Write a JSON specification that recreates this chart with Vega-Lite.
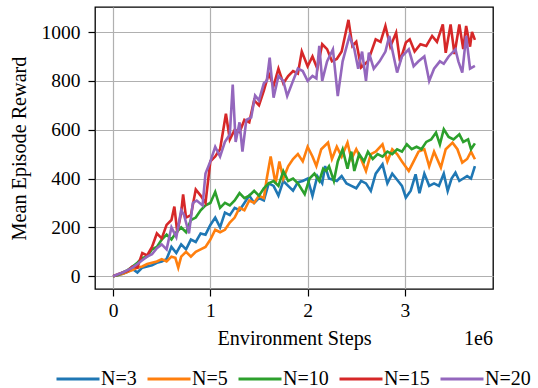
{
  "$schema": "https://vega.github.io/schema/vega-lite/v6.json",
  "width": 398,
  "height": 282,
  "autosize": {"type": "none"},
  "padding": {"left": 95, "top": 7, "right": 45, "bottom": 99},
  "background": "white",
  "config": {
    "font": "Liberation Serif",
    "view": {"stroke": "black", "strokeWidth": 1.3},
    "axis": {
      "domain": false,
      "grid": true,
      "gridColor": "#b0b0b0",
      "gridWidth": 1.2,
      "tickColor": "black",
      "tickSize": 7,
      "tickWidth": 1.2,
      "labelColor": "black",
      "labelFontSize": 19.5,
      "labelFont": "Liberation Serif",
      "titleColor": "black",
      "titleFont": "Liberation Serif",
      "titleFontSize": 20.2,
      "titleFontWeight": "normal"
    },
    "legend": {
      "labelFont": "Liberation Serif",
      "labelFontSize": 20,
      "labelColor": "black"
    }
  },
  "layer": [
    {
      "data": {
        "values": [
          {"s":"N=3","x":0,"y":0},{"s":"N=3","x":0.05,"y":5},{"s":"N=3","x":0.1,"y":10},{"s":"N=3","x":0.15,"y":18},{"s":"N=3","x":0.2,"y":30},{"s":"N=3","x":0.25,"y":15},{"s":"N=3","x":0.3,"y":35},{"s":"N=3","x":0.35,"y":40},{"s":"N=3","x":0.4,"y":45},{"s":"N=3","x":0.45,"y":55},{"s":"N=3","x":0.5,"y":60},{"s":"N=3","x":0.55,"y":70},{"s":"N=3","x":0.6,"y":120},{"s":"N=3","x":0.65,"y":95},{"s":"N=3","x":0.7,"y":130},{"s":"N=3","x":0.75,"y":110},{"s":"N=3","x":0.8,"y":150},{"s":"N=3","x":0.85,"y":140},{"s":"N=3","x":0.9,"y":175},{"s":"N=3","x":0.95,"y":170},{"s":"N=3","x":1.0,"y":210},{"s":"N=3","x":1.05,"y":240},{"s":"N=3","x":1.1,"y":200},{"s":"N=3","x":1.15,"y":260},{"s":"N=3","x":1.2,"y":250},{"s":"N=3","x":1.25,"y":280},{"s":"N=3","x":1.3,"y":270},{"s":"N=3","x":1.35,"y":300},{"s":"N=3","x":1.4,"y":330},{"s":"N=3","x":1.45,"y":300},{"s":"N=3","x":1.5,"y":320},{"s":"N=3","x":1.55,"y":310},{"s":"N=3","x":1.6,"y":380},{"s":"N=3","x":1.65,"y":370},{"s":"N=3","x":1.7,"y":330},{"s":"N=3","x":1.75,"y":390},{"s":"N=3","x":1.8,"y":370},{"s":"N=3","x":1.85,"y":350},{"s":"N=3","x":1.9,"y":385},{"s":"N=3","x":1.95,"y":390},{"s":"N=3","x":2.0,"y":400},{"s":"N=3","x":2.05,"y":329},{"s":"N=3","x":2.1,"y":410},{"s":"N=3","x":2.15,"y":380},{"s":"N=3","x":2.18,"y":451},{"s":"N=3","x":2.22,"y":400},{"s":"N=3","x":2.3,"y":390},{"s":"N=3","x":2.35,"y":410},{"s":"N=3","x":2.4,"y":380},{"s":"N=3","x":2.45,"y":370},{"s":"N=3","x":2.5,"y":360},{"s":"N=3","x":2.55,"y":390},{"s":"N=3","x":2.6,"y":380},{"s":"N=3","x":2.65,"y":349},{"s":"N=3","x":2.7,"y":420},{"s":"N=3","x":2.77,"y":458},{"s":"N=3","x":2.82,"y":380},{"s":"N=3","x":2.87,"y":420},{"s":"N=3","x":2.93,"y":390},{"s":"N=3","x":2.97,"y":370},{"s":"N=3","x":3.01,"y":322},{"s":"N=3","x":3.06,"y":350},{"s":"N=3","x":3.11,"y":417},{"s":"N=3","x":3.15,"y":340},{"s":"N=3","x":3.2,"y":420},{"s":"N=3","x":3.25,"y":370},{"s":"N=3","x":3.3,"y":380},{"s":"N=3","x":3.35,"y":370},{"s":"N=3","x":3.4,"y":420},{"s":"N=3","x":3.44,"y":349},{"s":"N=3","x":3.48,"y":400},{"s":"N=3","x":3.52,"y":424},{"s":"N=3","x":3.56,"y":390},{"s":"N=3","x":3.6,"y":400},{"s":"N=3","x":3.64,"y":410},{"s":"N=3","x":3.68,"y":400},{"s":"N=3","x":3.72,"y":451},

          {"s":"N=5","x":0,"y":0},{"s":"N=5","x":0.05,"y":5},{"s":"N=5","x":0.1,"y":10},{"s":"N=5","x":0.15,"y":18},{"s":"N=5","x":0.2,"y":25},{"s":"N=5","x":0.25,"y":35},{"s":"N=5","x":0.3,"y":40},{"s":"N=5","x":0.35,"y":50},{"s":"N=5","x":0.4,"y":55},{"s":"N=5","x":0.45,"y":60},{"s":"N=5","x":0.5,"y":70},{"s":"N=5","x":0.55,"y":60},{"s":"N=5","x":0.6,"y":80},{"s":"N=5","x":0.64,"y":75},{"s":"N=5","x":0.67,"y":35},{"s":"N=5","x":0.7,"y":80},{"s":"N=5","x":0.75,"y":100},{"s":"N=5","x":0.8,"y":80},{"s":"N=5","x":0.85,"y":100},{"s":"N=5","x":0.9,"y":110},{"s":"N=5","x":0.95,"y":120},{"s":"N=5","x":1.0,"y":150},{"s":"N=5","x":1.05,"y":190},{"s":"N=5","x":1.1,"y":180},{"s":"N=5","x":1.15,"y":190},{"s":"N=5","x":1.2,"y":220},{"s":"N=5","x":1.25,"y":240},{"s":"N=5","x":1.3,"y":280},{"s":"N=5","x":1.35,"y":270},{"s":"N=5","x":1.4,"y":310},{"s":"N=5","x":1.45,"y":300},{"s":"N=5","x":1.5,"y":330},{"s":"N=5","x":1.55,"y":320},{"s":"N=5","x":1.58,"y":400},{"s":"N=5","x":1.62,"y":490},{"s":"N=5","x":1.67,"y":380},{"s":"N=5","x":1.71,"y":470},{"s":"N=5","x":1.75,"y":400},{"s":"N=5","x":1.8,"y":450},{"s":"N=5","x":1.85,"y":480},{"s":"N=5","x":1.9,"y":500},{"s":"N=5","x":1.95,"y":470},{"s":"N=5","x":2.0,"y":530},{"s":"N=5","x":2.05,"y":490},{"s":"N=5","x":2.09,"y":451},{"s":"N=5","x":2.14,"y":520},{"s":"N=5","x":2.21,"y":547},{"s":"N=5","x":2.25,"y":480},{"s":"N=5","x":2.3,"y":530},{"s":"N=5","x":2.35,"y":490},{"s":"N=5","x":2.41,"y":547},{"s":"N=5","x":2.45,"y":480},{"s":"N=5","x":2.5,"y":520},{"s":"N=5","x":2.55,"y":480},{"s":"N=5","x":2.6,"y":431},{"s":"N=5","x":2.65,"y":500},{"s":"N=5","x":2.7,"y":510},{"s":"N=5","x":2.77,"y":540},{"s":"N=5","x":2.82,"y":470},{"s":"N=5","x":2.87,"y":520},{"s":"N=5","x":2.92,"y":500},{"s":"N=5","x":2.97,"y":470},{"s":"N=5","x":3.04,"y":431},{"s":"N=5","x":3.09,"y":470},{"s":"N=5","x":3.14,"y":510},{"s":"N=5","x":3.2,"y":520},{"s":"N=5","x":3.25,"y":450},{"s":"N=5","x":3.3,"y":510},{"s":"N=5","x":3.37,"y":445},{"s":"N=5","x":3.42,"y":520},{"s":"N=5","x":3.49,"y":547},{"s":"N=5","x":3.54,"y":520},{"s":"N=5","x":3.59,"y":465},{"s":"N=5","x":3.64,"y":480},{"s":"N=5","x":3.68,"y":510},{"s":"N=5","x":3.72,"y":479},

          {"s":"N=10","x":0,"y":0},{"s":"N=10","x":0.05,"y":5},{"s":"N=10","x":0.1,"y":15},{"s":"N=10","x":0.15,"y":25},{"s":"N=10","x":0.2,"y":40},{"s":"N=10","x":0.25,"y":55},{"s":"N=10","x":0.3,"y":75},{"s":"N=10","x":0.35,"y":80},{"s":"N=10","x":0.4,"y":110},{"s":"N=10","x":0.45,"y":120},{"s":"N=10","x":0.5,"y":150},{"s":"N=10","x":0.55,"y":170},{"s":"N=10","x":0.6,"y":150},{"s":"N=10","x":0.65,"y":180},{"s":"N=10","x":0.7,"y":200},{"s":"N=10","x":0.75,"y":180},{"s":"N=10","x":0.8,"y":230},{"s":"N=10","x":0.85,"y":240},{"s":"N=10","x":0.9,"y":270},{"s":"N=10","x":0.95,"y":290},{"s":"N=10","x":1.0,"y":300},{"s":"N=10","x":1.05,"y":345},{"s":"N=10","x":1.1,"y":280},{"s":"N=10","x":1.15,"y":300},{"s":"N=10","x":1.2,"y":290},{"s":"N=10","x":1.25,"y":310},{"s":"N=10","x":1.3,"y":340},{"s":"N=10","x":1.35,"y":320},{"s":"N=10","x":1.4,"y":330},{"s":"N=10","x":1.45,"y":350},{"s":"N=10","x":1.5,"y":330},{"s":"N=10","x":1.55,"y":360},{"s":"N=10","x":1.6,"y":380},{"s":"N=10","x":1.65,"y":390},{"s":"N=10","x":1.7,"y":370},{"s":"N=10","x":1.75,"y":430},{"s":"N=10","x":1.8,"y":390},{"s":"N=10","x":1.85,"y":400},{"s":"N=10","x":1.9,"y":380},{"s":"N=10","x":1.97,"y":336},{"s":"N=10","x":2.02,"y":400},{"s":"N=10","x":2.07,"y":420},{"s":"N=10","x":2.12,"y":390},{"s":"N=10","x":2.16,"y":440},{"s":"N=10","x":2.19,"y":431},{"s":"N=10","x":2.22,"y":450},{"s":"N=10","x":2.27,"y":390},{"s":"N=10","x":2.31,"y":470},{"s":"N=10","x":2.36,"y":520},{"s":"N=10","x":2.41,"y":440},{"s":"N=10","x":2.45,"y":510},{"s":"N=10","x":2.48,"y":431},{"s":"N=10","x":2.53,"y":500},{"s":"N=10","x":2.58,"y":470},{"s":"N=10","x":2.62,"y":510},{"s":"N=10","x":2.67,"y":480},{"s":"N=10","x":2.72,"y":500},{"s":"N=10","x":2.77,"y":490},{"s":"N=10","x":2.82,"y":510},{"s":"N=10","x":2.87,"y":500},{"s":"N=10","x":2.92,"y":520},{"s":"N=10","x":2.97,"y":510},{"s":"N=10","x":3.02,"y":540},{"s":"N=10","x":3.07,"y":520},{"s":"N=10","x":3.12,"y":530},{"s":"N=10","x":3.17,"y":520},{"s":"N=10","x":3.22,"y":550},{"s":"N=10","x":3.27,"y":560},{"s":"N=10","x":3.32,"y":588},{"s":"N=10","x":3.36,"y":540},{"s":"N=10","x":3.4,"y":602},{"s":"N=10","x":3.45,"y":570},{"s":"N=10","x":3.5,"y":560},{"s":"N=10","x":3.56,"y":581},{"s":"N=10","x":3.6,"y":550},{"s":"N=10","x":3.65,"y":560},{"s":"N=10","x":3.68,"y":520},{"s":"N=10","x":3.72,"y":544},

          {"s":"N=15","x":0,"y":0},{"s":"N=15","x":0.05,"y":8},{"s":"N=15","x":0.1,"y":15},{"s":"N=15","x":0.15,"y":22},{"s":"N=15","x":0.2,"y":40},{"s":"N=15","x":0.25,"y":35},{"s":"N=15","x":0.3,"y":95},{"s":"N=15","x":0.35,"y":85},{"s":"N=15","x":0.4,"y":120},{"s":"N=15","x":0.45,"y":175},{"s":"N=15","x":0.5,"y":155},{"s":"N=15","x":0.55,"y":210},{"s":"N=15","x":0.6,"y":230},{"s":"N=15","x":0.63,"y":285},{"s":"N=15","x":0.66,"y":180},{"s":"N=15","x":0.7,"y":260},{"s":"N=15","x":0.72,"y":335},{"s":"N=15","x":0.75,"y":240},{"s":"N=15","x":0.8,"y":250},{"s":"N=15","x":0.85,"y":355},{"s":"N=15","x":0.9,"y":330},{"s":"N=15","x":0.95,"y":300},{"s":"N=15","x":1.0,"y":470},{"s":"N=15","x":1.05,"y":490},{"s":"N=15","x":1.1,"y":520},{"s":"N=15","x":1.16,"y":665},{"s":"N=15","x":1.2,"y":560},{"s":"N=15","x":1.25,"y":600},{"s":"N=15","x":1.3,"y":590},{"s":"N=15","x":1.35,"y":640},{"s":"N=15","x":1.4,"y":630},{"s":"N=15","x":1.45,"y":720},{"s":"N=15","x":1.5,"y":700},{"s":"N=15","x":1.55,"y":760},{"s":"N=15","x":1.6,"y":830},{"s":"N=15","x":1.65,"y":780},{"s":"N=15","x":1.7,"y":850},{"s":"N=15","x":1.75,"y":790},{"s":"N=15","x":1.8,"y":820},{"s":"N=15","x":1.85,"y":840},{"s":"N=15","x":1.9,"y":830},{"s":"N=15","x":1.94,"y":920},{"s":"N=15","x":2.0,"y":860},{"s":"N=15","x":2.05,"y":900},{"s":"N=15","x":2.1,"y":850},{"s":"N=15","x":2.15,"y":950},{"s":"N=15","x":2.2,"y":930},{"s":"N=15","x":2.25,"y":880},{"s":"N=15","x":2.3,"y":890},{"s":"N=15","x":2.35,"y":920},{"s":"N=15","x":2.42,"y":1050},{"s":"N=15","x":2.46,"y":943},{"s":"N=15","x":2.5,"y":960},{"s":"N=15","x":2.55,"y":855},{"s":"N=15","x":2.62,"y":880},{"s":"N=15","x":2.7,"y":970},{"s":"N=15","x":2.75,"y":960},{"s":"N=15","x":2.8,"y":1025},{"s":"N=15","x":2.85,"y":940},{"s":"N=15","x":2.91,"y":997},{"s":"N=15","x":2.95,"y":880},{"s":"N=15","x":3.01,"y":957},{"s":"N=15","x":3.05,"y":970},{"s":"N=15","x":3.1,"y":920},{"s":"N=15","x":3.16,"y":950},{"s":"N=15","x":3.22,"y":943},{"s":"N=15","x":3.28,"y":984},{"s":"N=15","x":3.33,"y":960},{"s":"N=15","x":3.39,"y":1031},{"s":"N=15","x":3.42,"y":915},{"s":"N=15","x":3.47,"y":1031},{"s":"N=15","x":3.51,"y":910},{"s":"N=15","x":3.56,"y":1031},{"s":"N=15","x":3.6,"y":930},{"s":"N=15","x":3.63,"y":1025},{"s":"N=15","x":3.67,"y":940},{"s":"N=15","x":3.69,"y":1000},{"s":"N=15","x":3.72,"y":968},

          {"s":"N=20","x":0,"y":0},{"s":"N=20","x":0.05,"y":8},{"s":"N=20","x":0.1,"y":15},{"s":"N=20","x":0.15,"y":25},{"s":"N=20","x":0.2,"y":35},{"s":"N=20","x":0.25,"y":50},{"s":"N=20","x":0.3,"y":65},{"s":"N=20","x":0.35,"y":80},{"s":"N=20","x":0.4,"y":90},{"s":"N=20","x":0.45,"y":115},{"s":"N=20","x":0.5,"y":130},{"s":"N=20","x":0.55,"y":110},{"s":"N=20","x":0.6,"y":200},{"s":"N=20","x":0.65,"y":160},{"s":"N=20","x":0.7,"y":270},{"s":"N=20","x":0.73,"y":250},{"s":"N=20","x":0.78,"y":175},{"s":"N=20","x":0.82,"y":300},{"s":"N=20","x":0.86,"y":310},{"s":"N=20","x":0.92,"y":290},{"s":"N=20","x":0.95,"y":420},{"s":"N=20","x":1.0,"y":470},{"s":"N=20","x":1.05,"y":530},{"s":"N=20","x":1.1,"y":490},{"s":"N=20","x":1.15,"y":550},{"s":"N=20","x":1.2,"y":580},{"s":"N=20","x":1.23,"y":785},{"s":"N=20","x":1.26,"y":550},{"s":"N=20","x":1.3,"y":630},{"s":"N=20","x":1.33,"y":510},{"s":"N=20","x":1.37,"y":640},{"s":"N=20","x":1.42,"y":650},{"s":"N=20","x":1.46,"y":740},{"s":"N=20","x":1.5,"y":720},{"s":"N=20","x":1.55,"y":790},{"s":"N=20","x":1.58,"y":800},{"s":"N=20","x":1.61,"y":895},{"s":"N=20","x":1.65,"y":731},{"s":"N=20","x":1.7,"y":820},{"s":"N=20","x":1.75,"y":800},{"s":"N=20","x":1.79,"y":738},{"s":"N=20","x":1.85,"y":800},{"s":"N=20","x":1.9,"y":850},{"s":"N=20","x":1.95,"y":840},{"s":"N=20","x":2.0,"y":800},{"s":"N=20","x":2.05,"y":820},{"s":"N=20","x":2.09,"y":810},{"s":"N=20","x":2.12,"y":943},{"s":"N=20","x":2.15,"y":800},{"s":"N=20","x":2.2,"y":880},{"s":"N=20","x":2.26,"y":929},{"s":"N=20","x":2.31,"y":738},{"s":"N=20","x":2.36,"y":880},{"s":"N=20","x":2.43,"y":984},{"s":"N=20","x":2.48,"y":930},{"s":"N=20","x":2.52,"y":850},{"s":"N=20","x":2.56,"y":920},{"s":"N=20","x":2.6,"y":800},{"s":"N=20","x":2.63,"y":916},{"s":"N=20","x":2.68,"y":850},{"s":"N=20","x":2.74,"y":880},{"s":"N=20","x":2.8,"y":920},{"s":"N=20","x":2.84,"y":984},{"s":"N=20","x":2.92,"y":834},{"s":"N=20","x":2.97,"y":900},{"s":"N=20","x":3.04,"y":929},{"s":"N=20","x":3.09,"y":860},{"s":"N=20","x":3.14,"y":880},{"s":"N=20","x":3.2,"y":900},{"s":"N=20","x":3.25,"y":800},{"s":"N=20","x":3.3,"y":850},{"s":"N=20","x":3.36,"y":880},{"s":"N=20","x":3.4,"y":870},{"s":"N=20","x":3.45,"y":900},{"s":"N=20","x":3.52,"y":929},{"s":"N=20","x":3.55,"y":880},{"s":"N=20","x":3.59,"y":834},{"s":"N=20","x":3.63,"y":984},{"s":"N=20","x":3.67,"y":850},{"s":"N=20","x":3.72,"y":861}
        ]
      },
      "mark": {"type": "line", "strokeWidth": 2.6, "clip": true},
      "encoding": {
        "x": {
          "field": "x",
          "type": "quantitative",
          "scale": {"domain": [-0.186, 3.906], "nice": false, "zero": false},
          "axis": {"values": [0, 1, 2, 3], "format": "d", "title": "Environment Steps", "labelPadding": 5, "titlePadding": 9}
        },
        "y": {
          "field": "y",
          "type": "quantitative",
          "scale": {"domain": [-52.5, 1102.5], "nice": false, "zero": false},
          "axis": {"values": [0, 200, 400, 600, 800, 1000], "format": "d", "title": "Mean Episode Reward", "labelPadding": 8, "titlePadding": 12}
        },
        "color": {
          "field": "s",
          "type": "nominal",
          "scale": {
            "domain": ["N=3", "N=5", "N=10", "N=15", "N=20"],
            "range": ["#1f77b4", "#ff7f0e", "#2ca02c", "#d62728", "#9467bd"]
          },
          "legend": {
            "orient": "none",
            "legendX": -40,
            "legendY": 349,
            "direction": "horizontal",
            "title": null,
            "gridAlign": "none",
            "symbolType": "stroke",
            "symbolSize": 1849,
            "symbolStrokeWidth": 2.8,
            "labelOffset": 0,
            "columnPadding": 4
          }
        }
      }
    },
    {
      "data": {"values": [{"t": "1e6"}]},
      "mark": {"type": "text", "align": "right", "baseline": "middle", "fontSize": 20, "font": "Liberation Serif", "color": "black"},
      "encoding": {
        "x": {"datum": 3.906, "type": "quantitative"},
        "y": {"datum": -256, "type": "quantitative"},
        "text": {"field": "t"}
      }
    }
  ]
}
